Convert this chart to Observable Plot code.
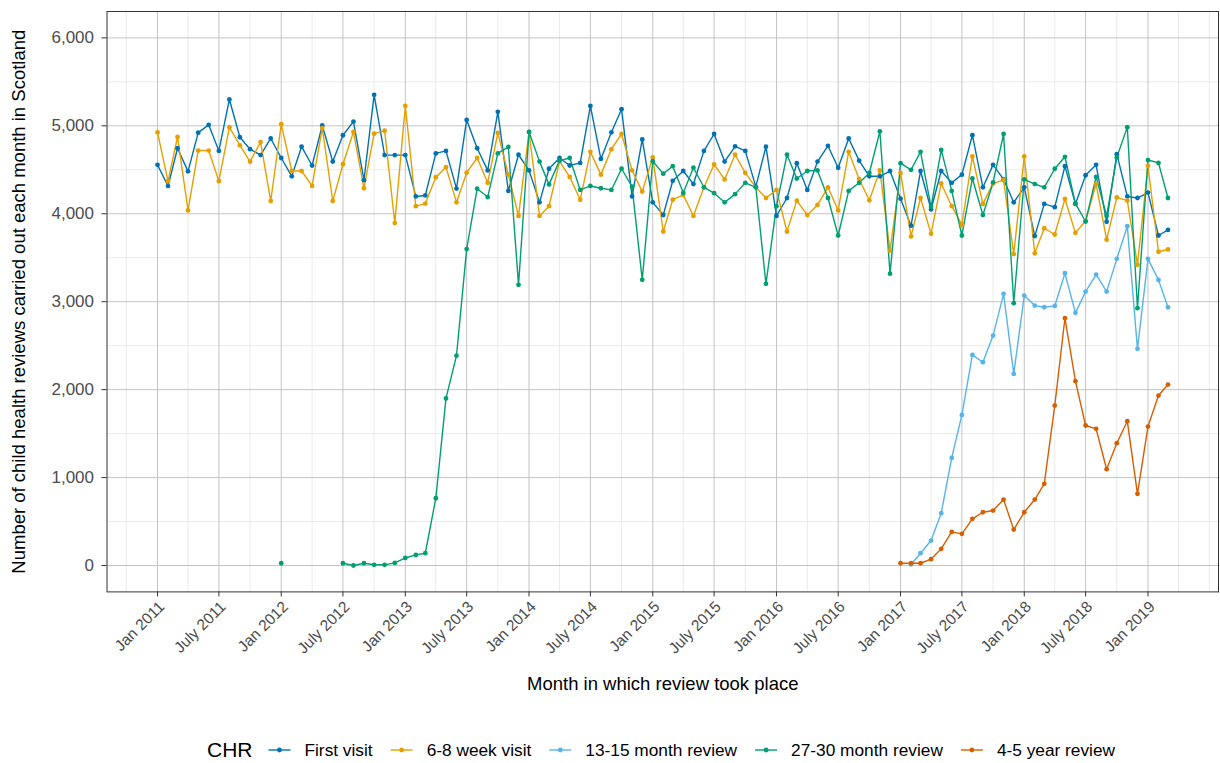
<!DOCTYPE html>
<html>
<head>
<meta charset="utf-8">
<script src="https://cdn.jsdelivr.net/npm/d3@7"></script>
<script src="https://cdn.jsdelivr.net/npm/@observablehq/plot@0.6"></script>
<style>
  html, body { margin: 0; padding: 0; background: #ffffff; }
  #chart { width: 1220px; height: 763px; position: relative; overflow: hidden; }
  #chart svg { display: block; }
</style>
</head>
<body>
<div id="chart"></div>
<script>
// ---------------- data ----------------
const firstMonth = [2011, 0]; // Jan 2011, monthly series
const seriesNames = ["First visit", "6-8 week visit", "13-15 month review", "27-30 month review", "4-5 year review"];
const seriesColors = ["#0072B2", "#E69F00", "#56B4E9", "#009E73", "#D55E00"];

const firstVisit = [
  4556,4315,4745,4482,4922,5011,4715,5300,4870,4734,
  4667,4856,4634,4426,4763,4549,5004,4593,4893,5048,
  4382,5352,4667,4667,4667,4197,4208,4686,4715,4286,
  5067,4745,4493,5159,4260,4671,4493,4130,4512,4634,
  4549,4578,5226,4623,4926,5189,4197,4845,4130,3986,
  4375,4486,4338,4715,4907,4593,4767,4715,4308,4763,
  3975,4179,4575,4271,4593,4771,4523,4856,4604,4426,
  4426,4486,4171,3864,4486,4049,4486,4352,4445,4893,
  4301,4556,4390,4130,4301,3746,4112,4075,4541,4112,
  4438,4556,3909,4678,4197,4179,4241,3753,3816
];
const sixEightWeek = [
  4926,4371,4874,4038,4719,4719,4371,4985,4778,4593,
  4815,4145,5019,4486,4486,4316,4974,4145,4563,4930,
  4290,4911,4945,3894,5226,4086,4116,4415,4530,4130,
  4467,4634,4352,4919,4445,3975,4930,3975,4086,4597,
  4419,4160,4704,4445,4734,4907,4493,4253,4641,3798,
  4160,4215,3975,4301,4560,4390,4671,4464,4301,4179,
  4271,3798,4149,3986,4101,4301,4038,4704,4393,4153,
  4493,3580,4464,3742,4179,3772,4345,4086,3875,4652,
  4112,4345,4382,3542,4652,3550,3835,3764,4168,3783,
  3920,4338,3705,4186,4149,3420,4545,3568,3594
];
// 13-15 month review: first value is Feb 2017 (month index 73)
const thirteenFifteenStart = 73;
const thirteenFifteen = [
  12,140,284,595,1224,1713,2395,2312,2615,3089,
  2179,3070,2956,2937,2952,3324,2873,3115,3309,3115,
  3487,3858,2464,3487,3248,2937
];
// 27-30 month review: single value Jan 2012 (index 12), then from July 2012 (index 18)
const twentySevenThirtyEarly = { index: 12, value: 26 };
const twentySevenThirtyStart = 18;
const twentySevenThirty = [
  26,0,26,8,8,30,86,121,140,765,
  1900,2386,3598,4285,4190,4686,4760,3192,4930,4593,
  4334,4604,4634,4271,4316,4290,4271,4512,4308,3249,
  4597,4456,4541,4238,4523,4301,4234,4130,4223,4352,
  4301,3203,4086,4671,4401,4486,4493,4179,3753,4260,
  4352,4464,4937,3319,4575,4500,4704,4079,4726,4260,
  3753,4401,3986,4356,4907,2983,4390,4338,4301,4512,
  4648,4116,3912,4419,3975,4641,4985,2926,4611,4578,
  4179
];
// 4-5 year review: first value is Jan 2017 (index 72)
const fourFiveStart = 72;
const fourFive = [
  26,26,26,72,190,382,360,531,606,625,
  750,409,606,750,929,1819,2812,2096,1592,1554,
  1095,1391,1641,815,1580,1933,2058
];

const xTickLabels = [
  "Jan 2011","July 2011","Jan 2012","July 2012","Jan 2013","July 2013",
  "Jan 2014","July 2014","Jan 2015","July 2015","Jan 2016","July 2016",
  "Jan 2017","July 2017","Jan 2018","July 2018","Jan 2019"
];
const yTicks = [0, 1000, 2000, 3000, 4000, 5000, 6000];
const yMinorTicks = [500, 1500, 2500, 3500, 4500, 5500];

// ---------------- build tables ----------------
const nMonths = firstVisit.length;
const monthDate = i => new Date(Date.UTC(firstMonth[0], firstMonth[1] + i, 1));

function fullSeries(startIdx, values) {
  const arr = new Array(nMonths).fill(null);
  values.forEach((v, k) => { arr[startIdx + k] = v; });
  return arr;
}
const s27 = fullSeries(twentySevenThirtyStart, twentySevenThirty);
s27[twentySevenThirtyEarly.index] = twentySevenThirtyEarly.value;

const seriesValues = [
  firstVisit,
  sixEightWeek,
  fullSeries(thirteenFifteenStart, thirteenFifteen),
  s27,
  fullSeries(fourFiveStart, fourFive)
];
const tables = seriesValues.map((vals, s) =>
  vals.map((v, i) => ({ date: monthDate(i), value: v, series: seriesNames[s] }))
);

// x domain: data range expanded by 5% each side (ggplot default)
const t0 = monthDate(0), t1 = monthDate(nMonths - 1);
const span = t1 - t0;
const xDomain = [new Date(+t0 - 0.05 * span), new Date(+t1 + 0.05 * span)];

const xTickDates = xTickLabels.map((_, i) => monthDate(i * 6));
const xMinor = d3.utcMonth.every(3).range(xDomain[0], xDomain[1])
  .filter(d => !xTickDates.some(t => +t === +d));

// ---------------- plot ----------------
const W = 1220, H = 720;
const fontFamily = "'Liberation Sans', Arial, Helvetica, sans-serif";

const lineMarks = tables.map((t, s) =>
  Plot.line(t, { x: "date", y: "value", stroke: seriesColors[s], strokeWidth: 1.4 })
);
const dotMarks = tables.map((t, s) =>
  Plot.dot(t.filter(d => d.value != null), { x: "date", y: "value", fill: seriesColors[s], r: 2.4 })
);

const chart = Plot.plot({
  width: W,
  height: H,
  marginLeft: 106.5,
  marginRight: 2,
  marginTop: 11,
  marginBottom: H - 591.4,
  x: { type: "utc", domain: xDomain },
  y: { domain: [-300, 6300] },
  style: { fontFamily, fontSize: "16px", background: "#ffffff", overflow: "visible" },
  marks: [
    Plot.ruleY(yMinorTicks, { stroke: "#ebebeb", strokeWidth: 1 }),
    Plot.ruleX(xMinor, { stroke: "#ebebeb", strokeWidth: 1 }),
    Plot.ruleY(yTicks, { stroke: "#c4c4c4", strokeWidth: 1 }),
    Plot.ruleX(xTickDates, { stroke: "#c4c4c4", strokeWidth: 1 }),
    ...lineMarks,
    ...dotMarks,
    Plot.frame({ stroke: "#333333", strokeWidth: 1 }),
    Plot.axisY(yTicks, {
      tickSize: 5, tickPadding: 8, tickFormat: d3.format(","),
      stroke: "#333333", fill: "#4d4d4d", fontSize: 17, label: null
    }),
    Plot.axisX(xTickDates, {
      tickSize: 5, tickFormat: () => "", stroke: "#333333", label: null
    }),
    Plot.text(xTickLabels, {
      x: xTickDates, frameAnchor: "bottom", dy: 8, rotate: -45,
      textAnchor: "end", lineAnchor: "top", fill: "#4d4d4d", fontSize: 15.5
    }),
    Plot.text(["Month in which review took place"], {
      frameAnchor: "bottom", dy: 98, textAnchor: "middle", fill: "#000000", fontSize: 18.5
    }),
    Plot.text(["Number of child health reviews carried out each month in Scotland"], {
      frameAnchor: "left", dx: -88, rotate: -90, textAnchor: "middle", fill: "#000000", fontSize: 18.5
    })
  ]
});

const container = document.getElementById("chart");
container.appendChild(chart);

// ---------------- legend (below the plot) ----------------
const legend = d3.select(container).append("svg")
  .attr("width", W).attr("height", 763 - H)
  .style("font-family", fontFamily);

const ly = 30; // vertical centre of legend row
const title = legend.append("text").text("CHR")
  .attr("y", ly).attr("dy", "0.35em")
  .attr("font-size", 21).attr("fill", "#000");

const items = seriesNames.map((name, s) => {
  const g = legend.append("g");
  g.append("line").attr("stroke", seriesColors[s]).attr("stroke-width", 1.4)
    .attr("x1", 0).attr("x2", 22).attr("y1", ly).attr("y2", ly);
  g.append("circle").attr("cx", 11).attr("cy", ly).attr("r", 2.4).attr("fill", seriesColors[s]);
  const t = g.append("text").text(name).attr("x", 36).attr("y", ly).attr("dy", "0.35em")
    .attr("font-size", 17.3).attr("fill", "#000");
  return { g, t };
});

const titleW = title.node().getComputedTextLength();
const widths = items.map(it => 36 + it.t.node().getComputedTextLength());
const gapTitle = 16, gapItem = 18;
const total = titleW + gapTitle + d3.sum(widths) + gapItem * (items.length - 1);
let cx = 661 - total / 2;
title.attr("x", cx);
cx += titleW + gapTitle;
items.forEach((it, i) => {
  it.g.attr("transform", `translate(${cx},0)`);
  cx += widths[i] + gapItem;
});
</script>
</body>
</html>
